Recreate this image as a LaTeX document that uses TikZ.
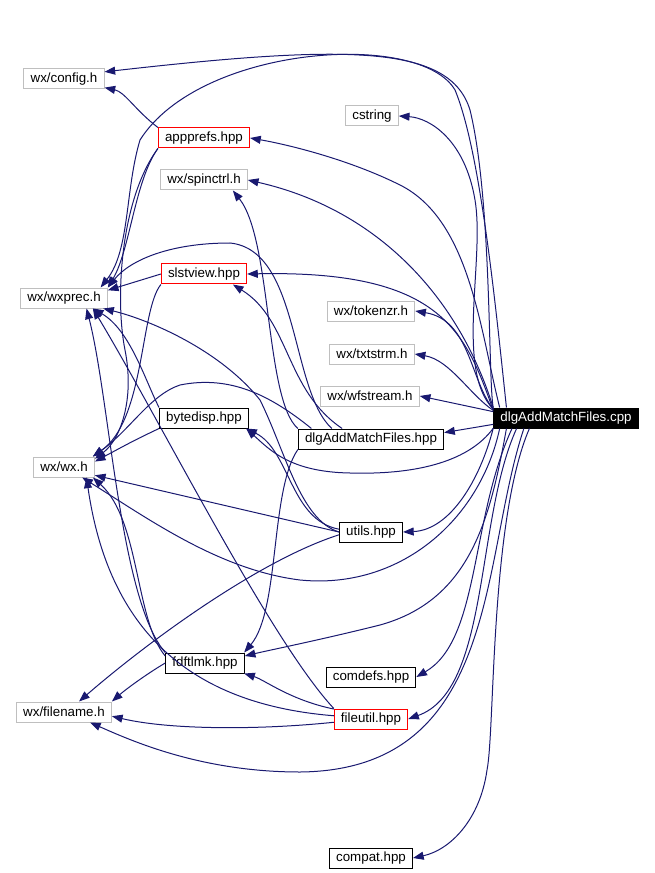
\documentclass[tikz,border=0pt]{standalone}
\usepackage{fontspec}
\setmainfont{Liberation Sans}
\usetikzlibrary{arrows.meta}
\definecolor{edgeblue}{HTML}{191970}
\definecolor{boxgray}{HTML}{BFBFBF}
\definecolor{markred}{HTML}{FF0000}
\tikzset{
	file/.style = {rectangle, line width=0.75pt, inner xsep=5pt, inner ysep=0pt,
		minimum height=15pt, font=\fontsize{10}{12}\selectfont},
	sysfile/.style = {file, draw=boxgray},
	localfile/.style = {file, draw=black},
	markedfile/.style = {file, draw=markred},
	rootfile/.style = {file, draw=black, fill=black, text=white},
	dep/.style = {edgeblue, line width=0.75pt, -{Triangle[length=8pt,width=6pt]}}
}
\begin{document}
\begin{tikzpicture}[x=0.75pt, y=-0.75pt]
	\useasboundingbox (0,0) rectangle (654,873);
	% the files
	\node[sysfile] (cfg) at (64,79) {wx/config.h};
	\node[sysfile] (cstr) at (372,116) {cstring};
	\node[markedfile] (apf) at (204,138) {appprefs.hpp};
	\node[sysfile] (spin) at (204,180) {wx/spinctrl.h};
	\node[markedfile] (slv) at (204,274) {slstview.hpp};
	\node[sysfile] (wxp) at (64,298) {wx/wxprec.h};
	\node[sysfile] (tok) at (371,311) {wx/tokenzr.h};
	\node[sysfile] (txt) at (372,354) {wx/txtstrm.h};
	\node[sysfile] (wfs) at (370,396) {wx/wfstream.h};
	\node[rootfile] (cpp) at (566,418) {dlgAddMatchFiles.cpp};
	\node[localfile] (byt) at (204,418) {bytedisp.hpp};
	\node[localfile] (hpp) at (371,439) {dlgAddMatchFiles.hpp};
	\node[sysfile] (wxh) at (64,467) {wx/wx.h};
	\node[localfile] (utl) at (371,532) {utils.hpp};
	\node[localfile] (fdf) at (205,663) {fdftlmk.hpp};
	\node[localfile] (cmd) at (371,677) {comdefs.hpp};
	\node[sysfile] (fnm) at (64,712) {wx/filename.h};
	\node[markedfile] (fut) at (371,719) {fileutil.hpp};
	\node[localfile] (cmp) at (371,858) {compat.hpp};
	% includes of dlgAddMatchFiles.cpp
	\draw[dep] (cpp.172) .. controls (488,380) and (492,200) .. (470,110) .. controls (450,45) and (350,44) .. (cfg.10);
	\draw[dep] (cpp.170) .. controls (495,300) and (480,150) .. (455,90) .. controls (420,30) and (200,45) .. (140,140) .. controls (125,190) and (130,250) .. (wxp.16);
	\draw[dep] (cpp.173) .. controls (455,370) and (485,260) .. (475,200) .. controls (465,140) and (430,118) .. (cstr.east);
	\draw[dep] (cpp.171) .. controls (480,330) and (470,220) .. (400,185) .. controls (350,160) and (290,145) .. (apf.east);
	\draw[dep] (cpp.172) .. controls (460,300) and (380,210) .. (spin.east);
	\draw[dep] (cpp.174) .. controls (465,330) and (440,270) .. (slv.east);
	\draw[dep] (cpp.173) .. controls (470,380) and (470,320) .. (tok.east);
	\draw[dep] (cpp.174) .. controls (470,395) and (450,360) .. (txt.east);
	\draw[dep] (cpp.175) -- (wfs.east);
	\draw[dep] (cpp.185) -- (hpp.5);
	\draw[dep] (cpp.188) .. controls (470,460) and (420,475) .. (350,473) .. controls (290,472) and (270,450) .. (byt.-14);
	\draw[dep] (cpp.189) .. controls (480,520) and (400,590) .. (300,580) .. controls (220,570) and (150,520) .. (wxh.-30);
	\draw[dep] (cpp.188) .. controls (480,480) and (450,530) .. (utl.east);
	\draw[dep] (cpp.190) .. controls (490,520) and (470,600) .. (380,625) .. controls (320,640) and (270,650) .. (fdf.10);
	\draw[dep] (cpp.191) .. controls (470,520) and (480,640) .. (cmd.east);
	\draw[dep] (cpp.192) .. controls (475,520) and (490,690) .. (fut.east);
	\draw[dep] (cpp.194) .. controls (480,560) and (500,770) .. (300,772) .. controls (200,772) and (130,740) .. (fnm.-22);
	\draw[dep] (cpp.196) .. controls (490,520) and (495,730) .. (487,770) .. controls (480,820) and (450,850) .. (cmp.east);
	% includes of the headers
	\draw[dep] (apf.north west) .. controls (135,110) and (125,92) .. (cfg.-12);
	\draw[dep] (apf.south west) .. controls (135,180) and (130,250) .. (wxp.north east);
	\draw[dep] (apf.south west) .. controls (120,200) and (115,300) .. (125,350) .. controls (135,400) and (120,440) .. (wxh.15);
	\draw[dep] (slv.west) -- (wxp.10);
	\draw[dep] (slv.south west) .. controls (140,310) and (145,420) .. (wxh.20);
	\draw[dep] (byt.north west) .. controls (145,380) and (130,330) .. (wxp.-20);
	\draw[dep] (byt.south west) .. controls (135,440) .. (wxh.10);
	\draw[dep] (hpp.north west) .. controls (265,400) and (272,240) .. (spin.-20);
	\draw[dep] (hpp.160) .. controls (285,390) and (290,320) .. (slv.-20);
	\draw[dep] (hpp.165) .. controls (290,390) and (300,250) .. (230,243) .. controls (170,243) and (130,260) .. (wxp.north east);
	\draw[dep] (hpp.170) .. controls (270,395) and (230,375) .. (180,385) .. controls (150,395) and (130,430) .. (wxh.20);
	\draw[dep] (hpp.south west) .. controls (270,490) and (280,610) .. (fdf.15);
	\draw[dep] (utl.west) .. controls (300,520) and (285,450) .. (260,400) .. controls (220,350) and (150,320) .. (wxp.-15);
	\draw[dep] (utl.west) -- (wxh.-15);
	\draw[dep] (utl.175) .. controls (290,520) and (290,450) .. (byt.-14);
	\draw[dep] (utl.185) .. controls (260,560) and (150,640) .. (fnm.35);
	\draw[dep] (fdf.north west) .. controls (120,600) and (110,400) .. (wxp.-25);
	\draw[dep] (fdf.170) .. controls (135,620) and (140,520) .. (wxh.-20);
	\draw[dep] (fdf.west) .. controls (145,675) and (125,690) .. (fnm.north east);
	\draw[dep] (fut.north west) .. controls (270,640) and (160,420) .. (wxp.-20);
	\draw[dep] (fut.175) .. controls (200,705) and (110,640) .. (wxh.-25);
	\draw[dep] (fut.165) .. controls (290,700) and (265,680) .. (fdf.-15);
	\draw[dep] (fut.185) .. controls (260,730) and (170,730) .. (fnm.-5);
\end{tikzpicture}
\end{document}
